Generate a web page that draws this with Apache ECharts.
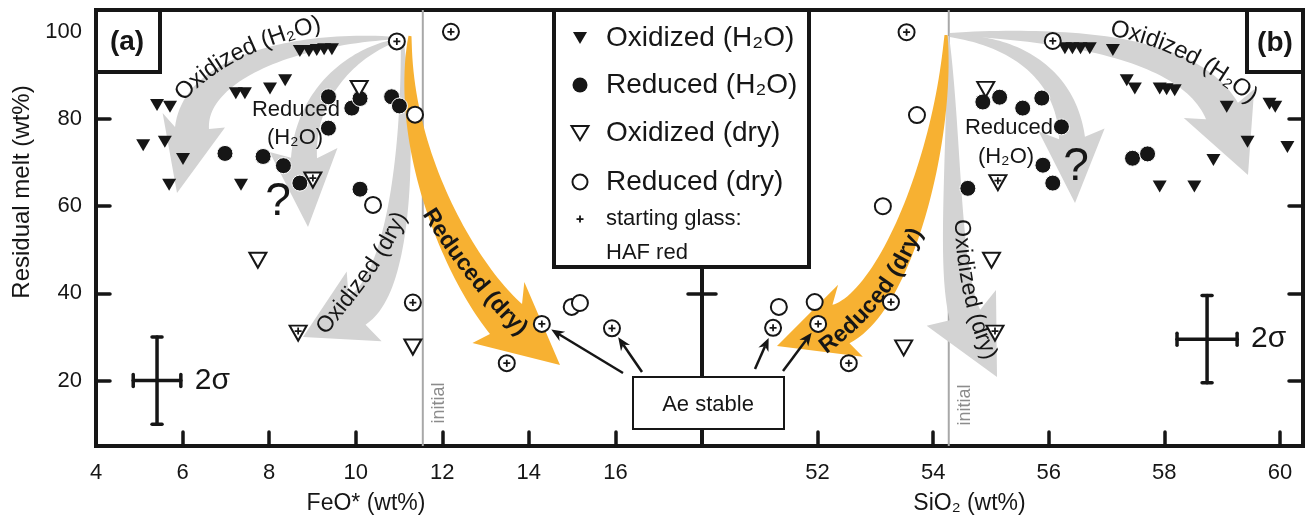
<!DOCTYPE html>
<html><head><meta charset="utf-8">
<script src="https://cdn.jsdelivr.net/npm/echarts@6/dist/echarts.min.js"></script>
<style>html,body{margin:0;padding:0;background:#fff}#c{width:1305px;height:527px}</style>
</head><body><div id="c"></div>
<script>
// ================= DATA =================
const feoTicks = [4, 6, 8, 10, 12, 14, 16];
const sioTicks = [52, 54, 56, 58, 60];
const meltTicks = [20, 40, 60, 80, 100];
const initialFeO = [11.55];
const initialSiO2 = [54.27];

// panel (a): [FeO*, residual melt]
const oxH2O_FeO = [[8.71,95.6],[8.92,95.6],[9.10,95.8],[9.27,96.0],[9.45,96.0],[7.23,85.9],[7.44,85.9],[8.02,87.0],[8.37,88.9],[5.41,83.2],[5.71,82.8],[5.09,74.0],[5.59,74.8],[6.01,70.8],[5.69,64.9],[7.35,64.9]];
const redH2O_FeO = [[9.37,85.1],[9.91,82.5],[9.37,77.9],[10.10,84.7],[10.83,85.1],[11.01,83.0],[6.98,72.1],[7.86,71.4],[8.33,69.3],[8.71,65.3],[10.10,63.9]];
const oxDry_FeO = [[10.08,87.0],[7.74,47.6],[11.32,27.7]];
const oxDryHAF_FeO = [[9.01,66.0],[8.67,30.9]];
const redDry_FeO = [[11.37,81.0],[10.40,60.3],[14.99,36.9],[15.18,37.8]];
const redDryHAF_FeO = [[10.95,97.8],[12.20,100.0],[11.32,37.9],[14.30,33.0],[15.92,32.0],[13.49,24.0]];
const sigmaFeO = [[5.41, 20, 0.55, 10]];

// panel (b): [SiO2, residual melt]
const oxH2O_SiO2 = [[56.28,96.2],[56.41,96.2],[56.55,96.2],[56.71,96.2],[57.11,95.8],[57.35,88.9],[57.49,87.0],[57.92,87.0],[58.04,86.8],[58.18,86.6],[59.08,82.8],[59.82,83.5],[59.92,82.8],[59.44,74.8],[60.13,73.6],[58.85,70.6],[57.92,64.5],[58.52,64.5]];
const redH2O_SiO2 = [[54.86,83.9],[55.15,85.0],[54.60,64.1],[55.55,82.5],[55.88,84.8],[56.22,78.2],[55.90,69.4],[56.07,65.3],[57.45,71.0],[57.71,72.0]];
const oxDry_SiO2 = [[54.91,86.8],[55.01,47.6],[53.49,27.5]];
const oxDryHAF_SiO2 = [[55.12,65.4],[55.07,30.9]];
const redDry_SiO2 = [[53.72,80.9],[53.13,60.0],[51.33,36.9],[51.95,38.0]];
const redDryHAF_SiO2 = [[53.54,99.9],[56.07,97.9],[53.27,38.0],[51.23,32.1],[52.01,33.0],[52.54,24.0]];
const sigmaSiO2 = [[58.74, 29.5, 0.52, 10]];

// ================= STYLE =================
const FF = "'Liberation Sans', Arial, Helvetica, sans-serif";
const INK = '#161616';
const GRAY = '#d3d3d3';
const ORANGE = '#f7b132';
const PLUS = 'path://M-1,-4H1V-1H4V1H1V4H-1V1H-4V-1H-1Z';

const chart = echarts.init(document.getElementById('c'));

function yAx(g, pos, showLabel, name) {
  return {type:'value', gridIndex:g, position:pos, min:5, max:105,
    axisLine:{show:true, onZero:false, lineStyle:{color:INK, width:4}},
    axisTick:{show:true, inside:true, length:14, customValues:meltTicks, lineStyle:{color:INK, width:3.5, cap:'round'}},
    axisLabel:{show:showLabel, customValues:meltTicks, fontSize:22, color:INK, margin:14, fontFamily:FF},
    splitLine:{show:false},
    name: name || '', nameLocation:'middle', nameGap:62, nameRotate:90,
    nameTextStyle:{fontSize:24, color:INK, fontFamily:FF, padding:[0,0,0,72]}};
}
function xAx(g, min, max, ticks, name) {
  return {type:'value', gridIndex:g, min:min, max:max, interval:2, position:'bottom',
    axisLine:{show:true, onZero:false, lineStyle:{color:INK, width:4}},
    axisTick:{show:true, inside:true, length:14, customValues:ticks, lineStyle:{color:INK, width:3.5, cap:'round'}},
    axisLabel:{customValues:ticks, fontSize:22, color:INK, margin:16, fontFamily:FF},
    splitLine:{show:false},
    name:name, nameLocation:'middle', nameGap:46,
    nameTextStyle:{fontSize:23, color:INK, fontFamily:FF, padding:[0,66,0,0]}};
}

function panelSeries(xi, yi, d) {
  const filledTri = {symbol:'triangle', symbolRotate:180, symbolSize:[14,12], itemStyle:{color:INK, opacity:1}};
  const openTri = {symbol:'triangle', symbolRotate:180, symbolSize:[17,15], itemStyle:{color:'#fff', borderColor:INK, borderWidth:2, opacity:1}};
  const openCirc = {symbol:'circle', symbolSize:16, itemStyle:{color:'#fff', borderColor:INK, borderWidth:2, opacity:1}};
  const base = {type:'scatter', xAxisIndex:xi, yAxisIndex:yi, z:3, silent:true};
  return [
    {type:'line', xAxisIndex:xi, yAxisIndex:yi, z:0, silent:true, symbol:'none',
      data:[[d.initial[0],5],[d.initial[0],105]], lineStyle:{color:'#a8a8a8', width:2}},
    Object.assign({}, base, filledTri, {name:'Oxidized (H₂O)', data:d.oxH2O}),
    Object.assign({}, base, {name:'Reduced (H₂O)', data:d.redH2O, symbol:'circle', symbolSize:16, itemStyle:{color:INK, borderColor:'#fff', borderWidth:1, opacity:1}}),
    Object.assign({}, base, openTri, {name:'Oxidized (dry)', data:d.oxDry}),
    Object.assign({}, base, openTri, {name:'Oxidized (dry) HAF', data:d.oxDryHAF}),
    Object.assign({}, base, openCirc, {name:'Reduced (dry)', data:d.redDry}),
    Object.assign({}, base, openCirc, {name:'Reduced (dry) HAF', data:d.redDryHAF}),
    Object.assign({}, base, {name:'starting glass HAF', data:d.oxDryHAF, symbol:PLUS, symbolSize:7, symbolOffset:[0,-2], itemStyle:{color:INK, opacity:1}, z:4}),
    Object.assign({}, base, {name:'starting glass HAF', data:d.redDryHAF, symbol:PLUS, symbolSize:7, itemStyle:{color:INK, opacity:1}, z:4}),
    {type:'custom', xAxisIndex:xi, yAxisIndex:yi, z:3, silent:true, data:d.sigma,
      renderItem:function(params, api){
        const x=api.value(0), y=api.value(1), ex=api.value(2), ey=api.value(3);
        const c=api.coord([x,y]), l=api.coord([x-ex,y]), r=api.coord([x+ex,y]), t=api.coord([x,y+ey]), b=api.coord([x,y-ey]);
        const st={stroke:INK, lineWidth:3.5, lineCap:'round'};
        const L=(x1,y1,x2,y2)=>({type:'line', shape:{x1,y1,x2,y2}, style:st});
        return {type:'group', children:[
          L(l[0],c[1],r[0],c[1]), L(c[0],t[1],c[0],b[1]),
          L(l[0],c[1]-6,l[0],c[1]+6), L(r[0],c[1]-6,r[0],c[1]+6),
          L(c[0]-5,t[1],c[0]+5,t[1]), L(c[0]-5,b[1],c[0]+5,b[1]),
          {type:'text', x:r[0]+14, y:c[1], style:{text:'2σ', fontSize:30, fontFamily:FF, fill:INK, align:'left', verticalAlign:'middle'}}
        ]};
      }}
  ];
}

const option = {
  animation:false,
  backgroundColor:'#fff',
  grid:[
    {left:96, top:10, width:606, height:436, show:true, borderColor:INK, borderWidth:4, backgroundColor:'transparent'},
    {left:702, top:10, width:601, height:436, show:true, borderColor:INK, borderWidth:4, backgroundColor:'transparent'}
  ],
  xAxis:[ xAx(0, 4, 18, feoTicks, 'FeO* (wt%)'), xAx(1, 50, 60.4, sioTicks, 'SiO₂ (wt%)') ],
  yAxis:[ yAx(0,'left',true,'Residual melt (wt%)'), yAx(0,'right',false), yAx(1,'left',false), yAx(1,'right',false) ],
  series:[].concat(
    panelSeries(0, 0, {initial:initialFeO, oxH2O:oxH2O_FeO, redH2O:redH2O_FeO, oxDry:oxDry_FeO, oxDryHAF:oxDryHAF_FeO, redDry:redDry_FeO, redDryHAF:redDryHAF_FeO, sigma:sigmaFeO}),
    panelSeries(1, 2, {initial:initialSiO2, oxH2O:oxH2O_SiO2, redH2O:redH2O_SiO2, oxDry:oxDry_SiO2, oxDryHAF:oxDryHAF_SiO2, redDry:redDry_SiO2, redDryHAF:redDryHAF_SiO2, sigma:sigmaSiO2})
  )
};
chart.setOption(option);

// ================= ANNOTATION LAYER (pixel illustration) =================
function bez(P,t){const u=1-t;return [u*u*u*P[0][0]+3*u*u*t*P[1][0]+3*u*t*t*P[2][0]+t*t*t*P[3][0], u*u*u*P[0][1]+3*u*u*t*P[1][1]+3*u*t*t*P[2][1]+t*t*t*P[3][1]];}
function bezD(P,t){const u=1-t;return [3*u*u*(P[1][0]-P[0][0])+6*u*t*(P[2][0]-P[1][0])+3*t*t*(P[3][0]-P[2][0]), 3*u*u*(P[1][1]-P[0][1])+6*u*t*(P[2][1]-P[1][1])+3*t*t*(P[3][1]-P[2][1])];}
function unit(v){const l=Math.hypot(v[0],v[1])||1;return [v[0]/l,v[1]/l];}

// arrow bodies (cubic centre line) + text baselines (cubic, text centred on it)
const ARROWS = [
  {P:[[395,38],[290,38],[195,70],[192,128]], tip:[177,193], w0:2, w1:34, h:32, back:8, fill:GRAY,
    label:{text:'Oxidized (H₂O)', size:24, path:[[178,99],[203,68],[250,40],[322,24]]}},
  {P:[[397,40],[345,55],[305,100],[304,158]], tip:[308,227], w0:2, w1:26, h:34, back:8, fill:GRAY},
  {P:[[402,38],[410,140],[400,285],[357,310]], tip:[303,337], w0:2, w1:34, h:39, back:8, fill:GRAY,
    label:{text:'Oxidized (dry)', size:23, path:[[316,338],[345,300],[382,262],[404,206]]}},
  {P:[[410,36],[400,150],[460,270],[506,319]], tip:[560,365], w0:3, w1:44, h:40, back:10, fill:ORANGE,
    label:{text:'Reduced (dry)', size:23, weight:'bold', path:[[427,210],[450,247],[482,292],[524,332]]}},
  {P:[[950,34],[1080,34],[1190,50],[1222,111]], tip:[1248,175], w0:2, w1:36, h:38, back:8, fill:GRAY,
    label:{text:'Oxidized (H₂O)', size:24, path:[[1106,28],[1150,35],[1202,54],[1258,102]]}},
  {P:[[950,36],[1012,40],[1066,72],[1072,138]], tip:[1075,203], w0:2, w1:26, h:33, back:8, fill:GRAY},
  {P:[[948,36],[955,150],[948,265],[965,315]], tip:[997,377], w0:2, w1:32, h:39, back:8, fill:GRAY,
    label:{text:'Oxidized (dry)', size:23, path:[[961,213],[962,278],[975,322],[993,364]]}},
  {P:[[946,35],[945,150],[895,300],[841,324]], tip:[777,346], w0:3, w1:42, h:38, back:10, fill:ORANGE,
    label:{text:'Reduced (dry)', size:23, weight:'bold', path:[[817,353],[855,326],[891,292],[919,224]]}}
];

function arrowPoints(a){
  const N=48, L=[], R=[];
  for(let i=0;i<=N;i++){
    const t=i/N, p=bez(a.P,t), d=unit(bezD(a.P,t)), n=[d[1],-d[0]];
    const w=(a.w0+(a.w1-a.w0)*Math.pow(t,0.85))/2;
    L.push([p[0]+n[0]*w,p[1]+n[1]*w]); R.push([p[0]-n[0]*w,p[1]-n[1]*w]);
  }
  const B=a.P[3], d=unit([a.tip[0]-B[0],a.tip[1]-B[1]]), n=[d[1],-d[0]];
  const b1=[B[0]+n[0]*a.h-d[0]*a.back, B[1]+n[1]*a.h-d[1]*a.back];
  const b2=[B[0]-n[0]*a.h-d[0]*a.back, B[1]-n[1]*a.h-d[1]*a.back];
  return L.concat([b1, a.tip, b2], R.reverse());
}

const mctx = document.createElement('canvas').getContext('2d');
function curveText(lab){
  const q=[]; for(let i=0;i<=400;i++) q.push(bez(lab.path,i/400));
  const dirAt=i=>{const i0=Math.max(0,i-3), i1=Math.min(q.length-1,i+3);return unit([q[i1][0]-q[i0][0],q[i1][1]-q[i0][1]]);};
  const cum=[0]; for(let i=1;i<q.length;i++) cum.push(cum[i-1]+Math.hypot(q[i][0]-q[i-1][0],q[i][1]-q[i-1][1]));
  const wt=lab.weight||'normal';
  mctx.font=wt+' '+lab.size+'px '+FF;
  const chars=[...lab.text], ws=chars.map(c=>mctx.measureText(c).width);
  const W=ws.reduce((s,w)=>s+w,0);
  let s=cum[cum.length-1]/2-W/2; const out=[];
  chars.forEach((ch,k)=>{
    const sc=s+ws[k]/2; s+=ws[k];
    let i=cum.findIndex(c=>c>=sc); if(i<0) i=cum.length-1;
    const d=dirAt(i);
    out.push({type:'text', x:q[i][0], y:q[i][1], rotation:-Math.atan2(d[1],d[0]), silent:true, z:2,
      style:{text:ch, fontSize:lab.size, fontFamily:FF, fontWeight:wt, fill:INK, align:'center', verticalAlign:'middle'}});
  });
  return out;
}

function txt(x,y,text,size,extra){
  extra = extra || {};
  return {type:'text', x:x, y:y, silent:true, z:extra.z||2, rotation:extra.rotation||0,
    style:Object.assign({text:text, fontSize:size, fontFamily:FF, fill:INK, align:'center', verticalAlign:'middle'}, extra.style||{})};
}

function buildGraphic(){
  const G=[];
  ARROWS.forEach(a=>G.push({type:'polygon', shape:{points:arrowPoints(a)}, style:{fill:a.fill}, z:1, silent:true}));
  ARROWS.forEach(a=>{ if(a.label) G.push(...curveText(a.label)); });

  // arrow annotations
  G.push(txt(296,110,'Reduced',22), txt(295,138,'(H₂O)',22));
  G.push(txt(1009,128,'Reduced',22), txt(1006,157,'(H₂O)',22));
  G.push(txt(278,202,'?',46), txt(1076,167,'?',46));

  // "initial" labels next to the initial lines
  const li=chart.convertToPixel({gridIndex:0},[initialFeO[0],20]);
  const ri=chart.convertToPixel({gridIndex:1},[initialSiO2[0],20]);
  G.push(txt(li[0]+16,403,'initial',18,{rotation:Math.PI/2, style:{fill:'#8c8c8c'}}));
  G.push(txt(ri[0]+16,405,'initial',18,{rotation:Math.PI/2, style:{fill:'#8c8c8c'}}));

  // panel tags
  G.push({type:'rect', shape:{x:96,y:10,width:64,height:62}, style:{fill:'#fff', stroke:INK, lineWidth:4}, z:10, silent:true});
  G.push(txt(127,42,'(a)',28,{z:11, style:{fontWeight:'bold'}}));
  G.push({type:'rect', shape:{x:1247,y:10,width:56,height:62}, style:{fill:'#fff', stroke:INK, lineWidth:4}, z:10, silent:true});
  G.push(txt(1275,43,'(b)',28,{z:11, style:{fontWeight:'bold'}}));

  // legend box
  G.push({type:'rect', shape:{x:554,y:10,width:255,height:257}, style:{fill:'#fff', stroke:INK, lineWidth:4}, z:10, silent:true});
  const lx=580, tx=606;
  G.push({type:'polygon', shape:{points:[[lx-7,32],[lx+7,32],[lx,44]]}, style:{fill:INK}, z:11, silent:true});
  G.push({type:'circle', shape:{cx:lx, cy:85, r:7.5}, style:{fill:INK}, z:11, silent:true});
  G.push({type:'polygon', shape:{points:[[lx-8.5,126],[lx+8.5,126],[lx,140]]}, style:{fill:'#fff', stroke:INK, lineWidth:2}, z:11, silent:true});
  G.push({type:'circle', shape:{cx:lx, cy:182, r:7.5}, style:{fill:'#fff', stroke:INK, lineWidth:2}, z:11, silent:true});
  G.push({type:'rect', shape:{x:lx-3.5, y:218.2, width:7, height:1.8}, style:{fill:INK}, z:11, silent:true});
  G.push({type:'rect', shape:{x:lx-0.9, y:215.6, width:1.8, height:7}, style:{fill:INK}, z:11, silent:true});
  const L=(y,t,s)=>txt(tx,y,t,s,{z:11, style:{align:'left'}});
  G.push(L(38,'Oxidized (H₂O)',28), L(85,'Reduced (H₂O)',28), L(133,'Oxidized (dry)',28), L(182,'Reduced (dry)',28));
  G.push(L(219,'starting glass:',22), L(253,'HAF red',22));

  // Ae stable box + arrows
  G.push({type:'rect', shape:{x:633,y:377,width:151,height:52}, style:{fill:'#fff', stroke:INK, lineWidth:2}, z:10, silent:true});
  G.push(txt(708,405,'Ae stable',22,{z:11}));
  const links=[
    {from:[623,373], g:0, target:redDryHAF_FeO[3]},
    {from:[642,372], g:0, target:redDryHAF_FeO[4]},
    {from:[755,369], g:1, target:redDryHAF_SiO2[3]},
    {from:[783,371], g:1, target:redDryHAF_SiO2[4]}
  ];
  links.forEach(k=>{
    const p=chart.convertToPixel({gridIndex:k.g}, k.target);
    const d=unit([p[0]-k.from[0], p[1]-k.from[1]]), n=[d[1],-d[0]];
    const tip=[p[0]-d[0]*11, p[1]-d[1]*11];
    const base=[tip[0]-d[0]*9, tip[1]-d[1]*9];
    G.push({type:'line', shape:{x1:k.from[0],y1:k.from[1],x2:base[0],y2:base[1]}, style:{stroke:INK, lineWidth:2.5}, z:9, silent:true});
    G.push({type:'polygon', shape:{points:[tip,[tip[0]-d[0]*13+n[0]*5.5, tip[1]-d[1]*13+n[1]*5.5], base, [tip[0]-d[0]*13-n[0]*5.5, tip[1]-d[1]*13-n[1]*5.5]]}, style:{fill:INK}, z:9, silent:true});
  });
  return G;
}
chart.setOption({graphic:{elements:buildGraphic()}});
</script>
</body></html>
